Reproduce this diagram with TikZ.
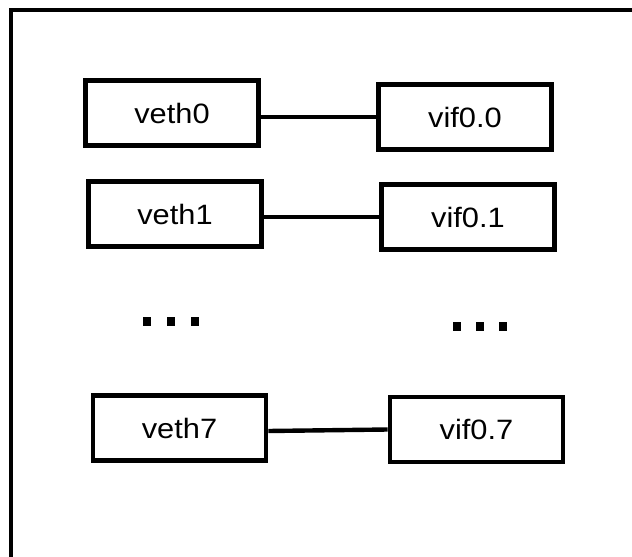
\documentclass[tikz,border=0pt]{standalone}
\usepackage{fontspec}
\setmainfont{Liberation Sans}
\begin{document}
\begin{tikzpicture}[x=1pt,y=-1pt,
  iface/.style={draw, line width=4.6pt, minimum width=173pt, minimum height=65pt,
    inner sep=0pt, font=\fontsize{28}{30}\selectfont},
  link/.style={line width=4.4pt},
  frame/.style={line width=4pt},
  dotsq/.style={fill=black}]
\useasboundingbox (0,0) rectangle (632,557);
\fill[white] (0,0) rectangle (632,557);

% outer host frame (only its left and top sides lie inside the page)
\draw[frame] (10.5,557) -- (10.5,9.5) -- (632,9.5);

% guest-side interfaces
\node[iface] (veth0) at (172,113)   {\scalebox{1.1}[1]{veth0}};
\node[iface] (veth1) at (175,214)   {\scalebox{1.1}[1]{veth1}};
\node[iface] (veth7) at (179.5,428) {\scalebox{1.1}[1]{veth7}};

% backend interfaces
\node[iface] (vif00) at (465,117)   {\scalebox{1.1}[1]{vif0.0}};
\node[iface] (vif01) at (468,217)   {\scalebox{1.1}[1]{vif0.1}};
\node[iface] (vif07) at (476.5,429.5) {\scalebox{1.1}[1]{vif0.7}};

% point-to-point links
\draw[link] (veth0.east |- vif00.west) -- (vif00.west);
\draw[link] (veth1.east |- vif01.west) -- (vif01.west);
\draw[link] ([yshift=-3pt]veth7.east) -- (vif07.west);

% ellipses between the pairs
\foreach \x in {147,171,195} \fill[dotsq] (\x-4.2,316.5) rectangle (\x+4.2,325.5);
\foreach \x in {457,480,503} \fill[dotsq] (\x-4.2,321.5) rectangle (\x+4.2,330.5);
\end{tikzpicture}
\end{document}
